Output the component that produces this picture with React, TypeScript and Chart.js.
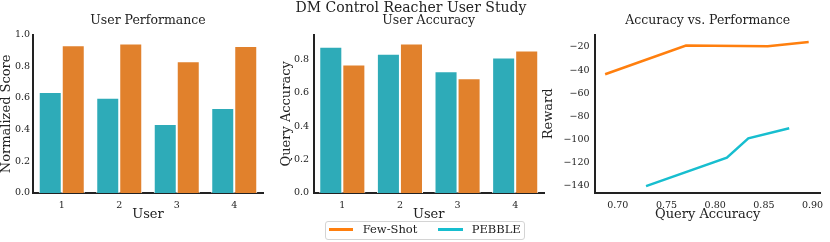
import React, { useEffect, useRef } from 'react';
import { Chart, registerables } from 'chart.js';

Chart.register(...registerables);

// ---- data ----
const users = ['1', '2', '3', '4'];
const perfPebble = [0.638, 0.602, 0.436, 0.537];
const perfFewShot = [0.933, 0.945, 0.832, 0.929];
const accPebble = [0.876, 0.834, 0.729, 0.812];
const accFewShot = [0.770, 0.896, 0.687, 0.854];
const rewardPebble = [-90.3, -99.0, -140.3, -115.7];
const rewardFewShot = [-18.7, -15.7, -43.6, -19.4];

const seriesNames = ['Few-Shot', 'PEBBLE'];

const FONT = "'DejaVu Serif', serif";
const TXT = '#222222';
const BAR_TEAL = '#2eabb8';
const BAR_ORANGE = '#e1812c';
const LINE_ORANGE = '#ff7f0e';
const LINE_CYAN = '#17becf';

Chart.defaults.font.family = FONT;
Chart.defaults.color = TXT;

const sortedPoints = (xs: number[], ys: number[]) =>
  xs.map((x, i) => ({ x, y: ys[i] })).sort((a, b) => a.x - b.x);

const fmtMinus = (v: number) => (v < 0 ? '\u2212' + Math.abs(v) : String(v));

function axisTitle(text: string, pad: any) {
  return {
    display: true,
    text,
    color: TXT,
    font: { family: FONT, size: 13, lineHeight: 1 },
    padding: pad,
  };
}

function yScale(opts: any) {
  return {
    type: 'linear',
    min: opts.min,
    max: opts.max,
    z: 1,
    grid: { display: false, drawTicks: false },
    border: { display: true, color: TXT, width: 2 },
    ticks: {
      stepSize: opts.step,
      includeBounds: false,
      color: TXT,
      padding: opts.tickPad,
      font: { family: FONT, size: 9.5 },
      callback: opts.cb,
    },
    title: axisTitle(opts.title, { top: opts.titleTop, bottom: 0 }),
    afterFit: (s: any) => {
      s.width = opts.width;
    },
  };
}

function xScaleExtra(title: string) {
  return {
    z: 1,
    grid: { display: false, drawTicks: false },
    border: { display: true, color: TXT, width: 2 },
    title: axisTitle(title, { top: 0, bottom: 21 }),
    afterFit: (s: any) => {
      s.height = 49;
    },
  };
}

function plotTitle(text: string) {
  return {
    display: true,
    text,
    color: TXT,
    fullSize: false,
    font: { family: FONT, size: 12.5, weight: 'normal', lineHeight: 1.2 },
    padding: { top: 13, bottom: 6.7 },
  };
}

function barConfig(title: string, pebble: number[], few: number[], y: any, padRight: number): any {
  return {
    type: 'bar',
    data: {
      labels: users,
      datasets: [
        {
          label: seriesNames[1],
          data: pebble,
          backgroundColor: BAR_TEAL,
          borderColor: '#ffffff',
          borderWidth: 1,
        },
        {
          label: seriesNames[0],
          data: few,
          backgroundColor: BAR_ORANGE,
          borderColor: '#ffffff',
          borderWidth: 1,
        },
      ],
    },
    options: {
      animation: false,
      responsive: false,
      layout: { padding: { left: 0, right: padRight, top: 0, bottom: 0 } },
      plugins: {
        legend: { display: false },
        tooltip: { enabled: false },
        title: plotTitle(title),
      },
      datasets: { bar: { categoryPercentage: 0.8, barPercentage: 1.0 } },
      scales: {
        x: {
          type: 'category',
          offset: true,
          ticks: { color: TXT, padding: 6.5, font: { family: FONT, size: 9.5 } },
          ...xScaleExtra('User'),
        },
        y: yScale(y),
      },
    },
  };
}

export default function App() {
  const c1 = useRef<HTMLCanvasElement>(null);
  const c2 = useRef<HTMLCanvasElement>(null);
  const c3 = useRef<HTMLCanvasElement>(null);

  useEffect(() => {
    const ch1 = new Chart(
      c1.current!,
      barConfig('User Performance', perfPebble, perfFewShot, {
        min: 0,
        max: 1.0,
        step: 0.2,
        tickPad: 3,
        width: 33,
        title: 'Normalized Score',
        titleTop: 0,
        cb: (v: any) => Number(v).toFixed(1),
      }, 17)
    );
    const ch2 = new Chart(
      c2.current!,
      barConfig('User Accuracy', accPebble, accFewShot, {
        min: 0,
        max: 0.948,
        step: 0.2,
        tickPad: 4.5,
        width: 33.5,
        title: 'Query Accuracy',
        titleTop: 0,
        cb: (v: any) => Number(v).toFixed(1),
      }, 6)
    );
    const ch3 = new Chart(c3.current!, {
      type: 'line',
      data: {
        datasets: [
          {
            label: seriesNames[0],
            data: sortedPoints(accFewShot, rewardFewShot),
            borderColor: LINE_ORANGE,
            backgroundColor: LINE_ORANGE,
            borderWidth: 2.5,
            pointRadius: 0,
            tension: 0,
          },
          {
            label: seriesNames[1],
            data: sortedPoints(accPebble, rewardPebble),
            borderColor: LINE_CYAN,
            backgroundColor: LINE_CYAN,
            borderWidth: 2.5,
            pointRadius: 0,
            tension: 0,
          },
        ],
      },
      options: {
        animation: false,
        responsive: false,
        layout: { padding: { left: 0, right: 4, top: 0, bottom: 0 } },
        plugins: {
          legend: { display: false },
          tooltip: { enabled: false },
          title: plotTitle('Accuracy vs. Performance'),
        },
        scales: {
          x: {
            type: 'linear',
            min: 0.6766,
            max: 0.908,
            ticks: {
              stepSize: 0.05,
              includeBounds: false,
              color: TXT,
              padding: 6.5,
              font: { family: FONT, size: 9.5 },
              callback: (v: any) => Number(v).toFixed(2),
            },
            ...xScaleExtra('Query Accuracy'),
          },
          y: yScale({
            min: -146.3,
            max: -9.4,
            step: 20,
            tickPad: 5.5,
            width: 55,
            title: 'Reward',
            titleTop: 2.5,
            cb: (v: any) => fmtMinus(Number(v)),
          }),
        },
      } as any,
    });
    return () => {
      ch1.destroy();
      ch2.destroy();
      ch3.destroy();
    };
  }, []);

  const abs = (left: number, width: number): React.CSSProperties => ({
    position: 'absolute',
    left,
    top: 0,
    width,
    height: 242,
  });

  return (
    <div
      style={{
        position: 'absolute',
        left: 0,
        top: 0,
        width: 830,
        height: 242,
        overflow: 'hidden',
        background: '#ffffff',
        fontFamily: FONT,
        color: TXT,
      }}
    >
      <canvas ref={c1} width={280} height={242} style={abs(0, 280)} />
      <canvas ref={c2} width={270} height={242} style={abs(280, 270)} />
      <canvas ref={c3} width={290} height={242} style={abs(540, 290)} />
      <div
        style={{
          position: 'absolute',
          left: 0,
          top: 0,
          width: 822,
          textAlign: 'center',
          fontSize: 14,
          lineHeight: '14px',
          whiteSpace: 'nowrap',
        }}
      >
        DM Control Reacher User Study
      </div>
      <div
        style={{
          position: 'absolute',
          left: 325,
          top: 221,
          width: 200,
          height: 19,
          boxSizing: 'border-box',
          border: '1px solid #d4d4d4',
          borderRadius: 3,
          background: '#ffffff',
          fontSize: 11.5,
          lineHeight: '11.5px',
        }}
      >
        <div style={{ position: 'absolute', left: 3, top: 6.2, width: 24, height: 2.5, background: LINE_ORANGE }} />
        <span style={{ position: 'absolute', left: 36.7, top: 2, whiteSpace: 'nowrap' }}>{seriesNames[0]}</span>
        <div style={{ position: 'absolute', left: 112.3, top: 6.2, width: 25, height: 2.5, background: LINE_CYAN }} />
        <span style={{ position: 'absolute', left: 145.7, top: 2, whiteSpace: 'nowrap' }}>{seriesNames[1]}</span>
      </div>
    </div>
  );
}
